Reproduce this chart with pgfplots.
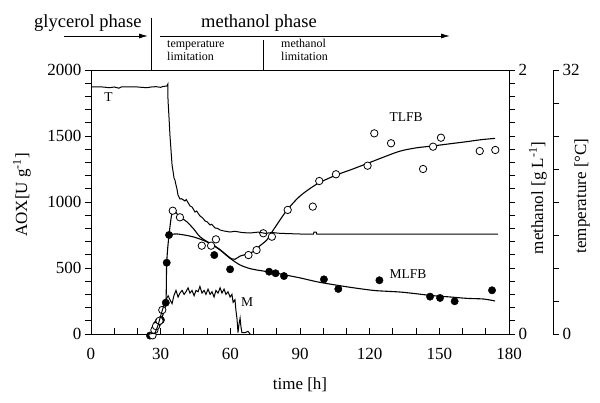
\documentclass[border=0pt]{standalone}
\usepackage{pgfplots}
\pgfplotsset{compat=1.18}
\usepackage{fontspec}
\setmainfont{Liberation Serif}
\usetikzlibrary{arrows.meta}

\begin{document}
\begin{tikzpicture}
\useasboundingbox (-91pt,-69pt) rectangle (509pt,334pt);
\pgfplotsset{
  common/.style={
    at={(0pt,0pt)}, anchor=south west, scale only axis,
    width=418pt, height=264pt, xmin=0, xmax=180, clip=false,
    tick label style={font=\fontsize{17}{20}\selectfont},
    /pgf/number format/assume math mode=true,
    /pgf/number format/1000 sep={},
    axis line style={line width=0.9pt},
    every tick/.style={black, line width=0.8pt},
    major tick length=6pt, minor tick length=6pt,
  },
}
% main axis: box, x ticks, AOX data
\begin{axis}[common, ymin=0, ymax=2000, tick align=inside,
  xtick={0,30,...,180}, minor x tick num=2, ytick=\empty, xtick pos=bottom,
  xticklabel style={yshift=-11pt}]
\addplot[black, line width=1.1pt, smooth, tension=0.5] coordinates {
(25.4,-12) (28.3,70) (30.1,106) (32.2,237) (32.6,540) (33.6,750) (35.2,934)
(38,890) (41.2,851) (44,800) (46.9,737) (50,700) (52.7,674) (55.5,640)
(58.4,598) (60.5,570) (62,566) (64.2,590) (67,605) (69.9,624) (72.5,665)
(75.7,712) (78,775) (81.4,864) (84.7,945) (90,1045) (97.2,1135) (105,1200)
(112,1245) (118.7,1290) (126,1340) (133,1385) (140,1410) (147.4,1425)
(155,1442) (161.8,1457) (168,1472) (174,1482)};
\addplot[black, line width=1.1pt, smooth, tension=0.5] coordinates {
(33.6,750) (36.9,758) (42.6,742) (46,725) (49.8,699) (52.7,670) (55.6,636)
(59.9,573) (64.2,523) (68.5,495) (71.3,485) (76,472) (81.4,455) (90,425)
(97.2,396) (104,375) (111.5,354) (118,338) (123,328) (133,318) (140,305)
(147.4,290) (155,280) (161.8,270) (169,265) (174,250)};
\addplot[only marks, mark=*, mark size=3.7pt, mark options={fill=black, draw=black}] coordinates {
(25.4,-12) (28.3,70) (29.0,90) (30.1,106) (32.2,237) (32.6,540) (33.6,750)
(53.1,598) (59.9,490) (76.7,472) (79.5,460) (83.1,439) (100.3,414) (106.5,341)
(124.2,407) (146.0,283) (150.3,273) (156.6,248) (172.7,331)};
\addplot[only marks, mark=*, mark size=3.7pt, mark options={fill=white, draw=black, line width=0.8pt}] coordinates {
(26.5,-10) (27.3,30) (28.0,60) (29.5,100) (30.7,182) (35.2,934) (38.3,884)
(47.7,669) (51.7,669) (53.8,717) (67.8,598) (71.3,636) (74.2,763) (77.9,737)
(84.7,940) (95.5,965) (98.3,1159) (105.5,1210) (119.1,1275) (122.0,1520)
(129.2,1445) (143.0,1250) (147.3,1419) (150.7,1487) (167.4,1386) (174.1,1394)};
\node[font=\fontsize{13.5}{15}\selectfont] at (axis cs:7.5,1792) {T};
\node[font=\fontsize{13.5}{15}\selectfont] at (axis cs:135.7,1644) {TLFB};
\node[font=\fontsize{13.5}{15}\selectfont] at (axis cs:136.5,455) {MLFB};
\node[font=\fontsize{13.5}{15}\selectfont] at (axis cs:67.2,242) {M};
\end{axis}
% left AOX axis
\begin{axis}[common, ymin=0, ymax=2000, axis y line*=left, axis x line=none,
  tick align=outside, ytick={0,500,...,2000}, minor y tick num=4]
\end{axis}
% methanol axis
\begin{axis}[common, ymin=0, ymax=2, axis y line*=right, axis x line=none,
  tick align=outside, ytick={0,2}, minor ytick={0.1,0.2,...,1.95}]
\addplot[black, line width=1pt] coordinates {
(25.4,0) (27.6,0.008) (28.9,0.068) (30.1,0.144) (31.4,0.22) (32.3,0.26)
(33.2,0.29) (34.0,0.26) (34.9,0.23) (35.7,0.29) (36.6,0.33) (37.5,0.28)
(38.3,0.31) (39.2,0.33) (40.1,0.30) (40.9,0.32) (41.8,0.35) (42.6,0.31)
(43.5,0.33) (44.4,0.29) (45.2,0.33) (46.1,0.32) (46.9,0.36) (47.8,0.31)
(48.7,0.33) (49.5,0.30) (50.4,0.34) (51.3,0.30) (52.1,0.32) (53.0,0.28)
(53.8,0.33) (54.7,0.31) (55.6,0.35) (56.4,0.31) (57.3,0.34) (58.1,0.30)
(59.0,0.32) (59.9,0.28) (60.7,0.30) (61.2,0.24) (62.0,0.26) (62.4,0.18)
(62.9,0.11) (63.3,0.01) (63.7,0.07) (64.2,0.12) (64.6,0.05) (65.0,0.01)
(66.3,0.01) (67.6,0.02) (68.5,0)};
\end{axis}
% temperature axis (offset to the right)
\begin{axis}[common, at={(44pt,0pt)}, xmin=18.947, xmax=198.947,
  ymin=0, ymax=32, axis y line*=right, axis x line=none,
  tick align=outside, ytick={0,32}, minor ytick={4,8,...,28}]
\addplot[black, line width=1pt] coordinates {
(0,29.94) (5,29.94) (8,29.85) (10,29.94) (12,29.8) (13,29.94) (20,29.94)
(24,29.85) (26,29.94) (28,29.98) (30,29.9) (31,30.0) (32.7,30.06) (33.1,30.3)
(33.16,28.4) (33.6,26.2) (34.0,24.1) (34.9,20.5) (35.4,19.6) (35.75,18.9)
(36.2,18.6) (36.6,18.06) (37.0,17.6) (37.47,16.85) (38.33,16.36) (39,16.4)
(40.48,16.12) (41,16.3) (42.64,15.52) (43.5,15.4) (44.79,14.79) (45.5,14.9)
(46.94,14.30) (48,14.1) (49.10,13.70) (50,13.6) (51.25,13.21) (52,13.3)
(53.40,12.85) (54.5,12.8) (55.56,12.61) (57,12.5) (59.86,12.36) (62,12.45)
(65,12.3) (68.48,12.24) (72,12.35) (75,12.2) (78,12.3) (81.4,12.2)
(90,12.12) (95.8,12.12) (96.0,12.35) (97.0,12.35) (97.2,12.12) (175.3,12.12)};
\end{axis}
% axis labels
\node[rotate=90, font=\fontsize{17}{20}\selectfont] at (-69pt,139pt) {AOX[U g\textsuperscript{-1}]};
\node[rotate=90, font=\fontsize{17}{20}\selectfont] at (447pt,136pt) {methanol [g L\textsuperscript{-1}]};
\node[rotate=90, font=\fontsize{17}{20}\selectfont] at (491pt,138pt) {temperature [°C]};
\node[font=\fontsize{17}{20}\selectfont] at (209pt,-51pt) {time [h]};
% phase annotations
\node[anchor=base west, inner sep=0pt, font=\fontsize{18.5}{21}\selectfont] at (-57pt,306pt) {glycerol phase};
\node[anchor=base west, inner sep=0pt, font=\fontsize{18.5}{21}\selectfont] at (110pt,306pt) {methanol phase};
\draw[line width=0.9pt, -{Latex[length=9pt,width=5pt]}] (-27pt,298pt) -- (57pt,298pt);
\draw[line width=0.9pt, -{Latex[length=9pt,width=5pt]}] (69pt,298pt) -- (359pt,298pt);
\draw[line width=0.9pt] (60pt,316pt) -- (60pt,264pt);
\draw[line width=0.9pt] (172pt,294pt) -- (172pt,264pt);
\node[anchor=base west, inner sep=0pt, align=left, font=\fontsize{12}{13.3}\selectfont] at (76pt,273pt) {temperature\\limitation};
\node[anchor=base west, inner sep=0pt, align=left, font=\fontsize{12}{13.3}\selectfont] at (190pt,273pt) {methanol\\limitation};
\end{tikzpicture}
\end{document}
